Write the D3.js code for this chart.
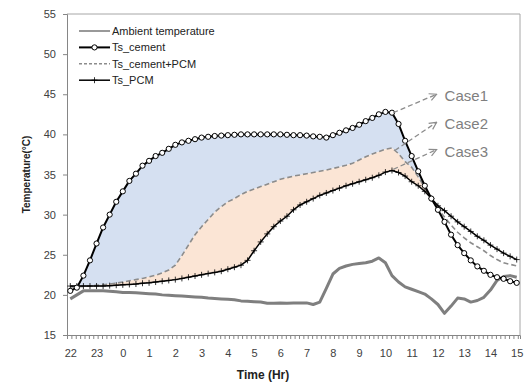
<!DOCTYPE html>
<html>
<head>
<meta charset="utf-8">
<script src="https://cdn.jsdelivr.net/npm/d3@7"></script>
<style>
  html, body { margin: 0; padding: 0; background: #fff; }
  svg text { font-family: "Liberation Sans", Arial, sans-serif; }
</style>
</head>
<body>
<div id="chart"></div>
<script>
// Hour labels on the x axis (22:00 to 15:00 next day)
const hourLabels = ['22', '23', '0', '1', '2', '3', '4', '5', '6', '7', '8', '9', '10', '11', '12', '13', '14', '15'];
const stepHours = 0.25; // readings every 15 minutes
const yTicks = [15, 20, 25, 30, 35, 40, 45, 50, 55];

const ambient = [
  19.5, 20.0, 20.5, 20.5, 20.5, 20.5, 20.45, 20.4, 20.3, 20.3, 20.25, 20.2, 20.15, 20.1, 20.0, 19.95,
  19.9, 19.85, 19.8, 19.75, 19.7, 19.6, 19.55, 19.5, 19.45, 19.4, 19.25, 19.2, 19.15, 19.1, 18.95, 18.95,
  19.0, 18.95, 19.0, 19.0, 19.0, 18.8, 19.1, 20.8, 22.6, 23.3, 23.6, 23.8, 23.9, 24.0, 24.2, 24.6,
  24.0, 22.4, 21.6, 21.0, 20.7, 20.4, 20.1, 19.5, 18.8, 17.7, 18.6, 19.6, 19.5, 19.1, 19.3, 19.7,
  20.6, 21.8, 22.3, 22.4, 22.2
];
const tsCement = [
  20.5, 20.9, 22.4, 24.3, 26.4, 28.4, 30.0, 31.6, 32.9, 34.2, 35.1, 36.1, 36.7, 37.3, 37.7, 38.2,
  38.7, 39.0, 39.2, 39.4, 39.6, 39.7, 39.8, 39.85, 39.9, 39.95, 40.0, 40.0, 40.0, 40.0, 40.0, 40.0,
  40.0, 39.95, 39.9, 39.9, 39.85, 39.75, 39.7, 39.6, 39.9, 40.2, 40.5, 40.8, 41.2, 41.65, 42.05, 42.5,
  42.8, 42.7, 41.3, 39.2, 37.3, 35.4, 33.6, 32.0, 30.6, 29.1, 27.5, 26.2, 25.2, 24.3, 23.55, 23.0,
  22.5, 22.2, 22.0, 21.7, 21.5
];
const tsCementPcm = [
  21.0, 21.0, 21.05, 21.1, 21.2, 21.25, 21.35, 21.45, 21.6, 21.75, 21.9, 22.05, 22.25, 22.45, 22.75, 23.1,
  23.7, 24.9, 26.2, 27.5, 28.5, 29.4, 30.3, 31.0, 31.6, 32.0, 32.5, 32.9, 33.2, 33.5, 33.8, 34.1,
  34.4, 34.6, 34.8, 34.95, 35.1, 35.25, 35.4, 35.55, 35.75, 35.95, 36.15, 36.4, 36.8, 37.2, 37.55, 37.85,
  38.15, 38.3, 37.6, 36.6, 35.9, 34.7, 33.4, 32.0, 30.7, 29.7, 28.7, 27.8, 27.1, 26.5, 26.0, 25.5,
  24.9, 24.4, 24.0, 23.8, 23.6
];
const tsPcm = [
  21.1, 21.1, 21.1, 21.1, 21.1, 21.1, 21.15, 21.2, 21.25, 21.3, 21.35, 21.45, 21.5, 21.6, 21.7, 21.8,
  21.9, 22.05, 22.2, 22.35, 22.5, 22.65, 22.8, 22.95, 23.2, 23.45, 23.7, 24.3, 25.5, 26.6, 27.6, 28.5,
  29.2, 29.8, 30.6, 31.2, 31.6, 32.0, 32.4, 32.7, 33.0, 33.3, 33.6, 33.85, 34.1, 34.35, 34.6, 34.9,
  35.3, 35.5, 35.25, 34.8, 34.1, 33.6, 32.9, 32.0, 31.1, 30.5, 29.8, 29.1, 28.5, 27.9, 27.3, 26.8,
  26.2, 25.7, 25.2, 24.8, 24.4
];

const seriesNames = ['Ambient temperature', 'Ts_cement', 'Ts_cement+PCM', 'Ts_PCM'];
const caseLabels = ['Case1', 'Case2', 'Case3'];
// arrow start (time, temp) on each curve and end point near the label
const caseArrowFrom = [[12.3, 42.7], [12.36, 38.0], [12.3, 35.65]];
const caseArrowTo = [[13.95, 45.0], [13.95, 41.5], [13.95, 38.1]];

const width = 524;
const height = 382;
const plot = { left: 67, right: 520, top: 14, bottom: 335 };

const svg = d3.select('#chart')
  .append('svg')
  .attr('width', width)
  .attr('height', height);

const x = d3.scaleLinear().domain([-0.125, 17.125]).range([plot.left, plot.right]);
const y = d3.scaleLinear().domain([15, 55]).range([plot.bottom, plot.top]);

const rows = tsCement.map((v, i) => ({
  t: i * stepHours,
  ambient: ambient[i],
  cement: v,
  cementPcm: tsCementPcm[i],
  pcm: tsPcm[i],
}));

// shaded gaps between the cases (only while the upper curve stays on top)
svg.append('path')
  .datum(rows)
  .attr('fill', '#d5e0f1')
  .attr('d', d3.area()
    .x(d => x(d.t))
    .y0(d => y(d.cementPcm))
    .y1(d => y(Math.max(d.cement, d.cementPcm))));

svg.append('path')
  .datum(rows)
  .attr('fill', '#fbe5d5')
  .attr('d', d3.area()
    .x(d => x(d.t))
    .y0(d => y(d.pcm))
    .y1(d => y(Math.max(d.cementPcm, d.pcm))));

// frame
svg.append('path')
  .attr('d', `M${plot.left},${plot.top}H${plot.right}V${plot.bottom}`)
  .attr('fill', 'none')
  .attr('stroke', '#a6a6a6')
  .attr('stroke-width', 1);

// y axis
const yAxis = svg.append('g')
  .attr('transform', `translate(${plot.left},0)`)
  .call(d3.axisLeft(y).tickValues(yTicks).tickSize(4).tickPadding(7));
yAxis.select('.domain').attr('stroke', '#868686');
yAxis.selectAll('line').attr('stroke', '#868686');
yAxis.selectAll('text').attr('font-size', 11).attr('fill', '#404040');

// x axis: minor ticks every 10 minutes, labels every hour
const xMinor = svg.append('g')
  .attr('transform', `translate(0,${plot.bottom})`)
  .call(d3.axisBottom(x)
    .tickValues(d3.range(-0.125, 17.13, 1 / 6))
    .tickSize(4)
    .tickFormat(''));
xMinor.select('.domain').attr('stroke', '#868686');
xMinor.selectAll('line').attr('stroke', '#868686');

const xLabels = svg.append('g')
  .attr('transform', `translate(0,${plot.bottom})`)
  .call(d3.axisBottom(x)
    .tickValues(d3.range(hourLabels.length))
    .tickSize(0)
    .tickPadding(14)
    .tickFormat(i => hourLabels[i]));
xLabels.select('.domain').remove();
xLabels.selectAll('text').attr('font-size', 11).attr('fill', '#404040');

// axis titles
svg.append('text')
  .attr('transform', `translate(30,${(plot.top + plot.bottom) / 2}) rotate(-90)`)
  .attr('text-anchor', 'middle')
  .attr('font-size', 10)
  .attr('font-weight', 'bold')
  .attr('fill', '#222')
  .text('Temperature(°C)');

svg.append('text')
  .attr('x', 263)
  .attr('y', 379)
  .attr('text-anchor', 'middle')
  .attr('font-size', 12)
  .attr('font-weight', 'bold')
  .attr('fill', '#222')
  .text('Time (Hr)');

// lines
const line = key => d3.line().x(d => x(d.t)).y(d => y(d[key]));

svg.append('path')
  .datum(rows)
  .attr('fill', 'none')
  .attr('stroke', '#7f7f7f')
  .attr('stroke-width', 3)
  .attr('stroke-linejoin', 'round')
  .attr('d', line('ambient'));

svg.append('path')
  .datum(rows)
  .attr('fill', 'none')
  .attr('stroke', '#8c8c8c')
  .attr('stroke-width', 1.6)
  .attr('stroke-dasharray', '5,3')
  .attr('d', line('cementPcm'));

svg.append('path')
  .datum(rows)
  .attr('fill', 'none')
  .attr('stroke', '#000')
  .attr('stroke-width', 1.5)
  .attr('d', line('pcm'));

const plusPath = 'M0,-3V3M-3,0H3';
svg.append('g')
  .selectAll('path')
  .data(rows)
  .join('path')
  .attr('transform', d => `translate(${x(d.t)},${y(d.pcm)})`)
  .attr('d', plusPath)
  .attr('stroke', '#000')
  .attr('stroke-width', 0.8);

svg.append('path')
  .datum(rows)
  .attr('fill', 'none')
  .attr('stroke', '#000')
  .attr('stroke-width', 2)
  .attr('d', line('cement'));

svg.append('g')
  .selectAll('circle')
  .data(rows)
  .join('circle')
  .attr('cx', d => x(d.t))
  .attr('cy', d => y(d.cement))
  .attr('r', 2.6)
  .attr('fill', '#fff')
  .attr('stroke', '#000')
  .attr('stroke-width', 1);

// case annotations
svg.append('defs')
  .append('marker')
  .attr('id', 'arrow')
  .attr('viewBox', '0 0 10 10')
  .attr('refX', 9)
  .attr('refY', 5)
  .attr('markerWidth', 9)
  .attr('markerHeight', 9)
  .attr('markerUnits', 'userSpaceOnUse')
  .attr('orient', 'auto')
  .append('path')
  .attr('d', 'M1,1L9,5L1,9')
  .attr('fill', 'none')
  .attr('stroke', '#8c8c8c')
  .attr('stroke-width', 1.3);

const cases = svg.append('g')
  .selectAll('g')
  .data(caseLabels)
  .join('g');

cases.append('line')
  .attr('x1', (d, i) => x(caseArrowFrom[i][0]))
  .attr('y1', (d, i) => y(caseArrowFrom[i][1]))
  .attr('x2', (d, i) => x(caseArrowTo[i][0]))
  .attr('y2', (d, i) => y(caseArrowTo[i][1]))
  .attr('stroke', '#8c8c8c')
  .attr('stroke-width', 1.3)
  .attr('stroke-dasharray', '5,3')
  .attr('marker-end', 'url(#arrow)');

cases.append('text')
  .attr('x', (d, i) => x(caseArrowTo[i][0]) + 8)
  .attr('y', (d, i) => y(caseArrowTo[i][1]) + 7)
  .attr('font-size', 15)
  .attr('fill', '#7f7f7f')
  .text(d => d);

// legend
const legend = svg.append('g').attr('transform', 'translate(79,31)');
const item = legend.selectAll('g')
  .data(seriesNames)
  .join('g')
  .attr('transform', (d, i) => `translate(0,${i * 16.4})`);

item.append('line')
  .attr('x1', 0)
  .attr('x2', 31)
  .attr('stroke', (d, i) => (i === 0 ? '#7f7f7f' : i === 2 ? '#8c8c8c' : '#000'))
  .attr('stroke-width', (d, i) => (i === 1 ? 2 : i === 0 ? 1.6 : 1.5))
  .attr('stroke-dasharray', (d, i) => (i === 2 ? '3,2' : null));

item.filter((d, i) => i === 1)
  .append('circle')
  .attr('cx', 15.5)
  .attr('r', 2.6)
  .attr('fill', '#fff')
  .attr('stroke', '#000');

item.filter((d, i) => i === 3)
  .append('path')
  .attr('transform', 'translate(15.5,0)')
  .attr('d', plusPath)
  .attr('stroke', '#000')
  .attr('stroke-width', 0.8);

item.append('text')
  .attr('x', 33)
  .attr('dy', '0.35em')
  .attr('font-size', 11)
  .attr('fill', '#222')
  .text(d => d);
</script>
</body>
</html>
